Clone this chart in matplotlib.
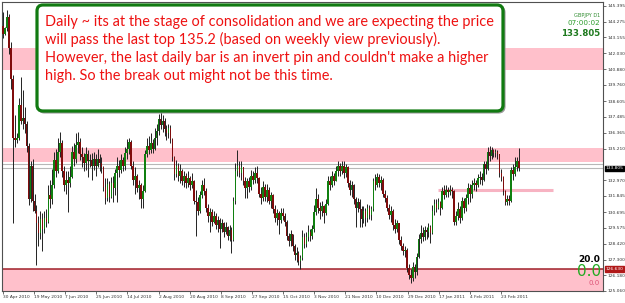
import numpy as np
import matplotlib.pyplot as plt
from matplotlib.patches import FancyBboxPatch
from matplotlib.transforms import IdentityTransform, blended_transform_factory

# GBPJPY D1, 30 Apr 2010 .. early Mar 2011
first_open = 144.0
closes = [
    143.4, 143.8, 144.6, 142.4, 140.2, 136.0, 135.8, 136.0, 138.3, 137.2,
    137.4, 137.0, 135.4, 131.6, 134.0, 131.5, 130.8, 129.9, 129.2, 130.2,
    129.5, 130.3, 130.0, 131.9, 131.6, 132.6, 134.4, 133.6, 135.0, 135.6,
    133.6, 132.6, 133.0, 132.8, 133.2, 135.0, 134.5, 135.5, 135.7, 134.8,
    134.6, 134.2, 134.8, 134.3, 134.4, 134.0, 134.5, 134.0, 134.5, 134.2,
    133.9, 132.5, 131.7, 132.7, 131.8, 132.8, 132.4, 133.5, 134.0, 133.7,
    134.4, 134.0, 134.9, 135.2, 135.7, 134.0, 133.0, 133.3, 132.4, 132.6,
    131.6, 132.2, 134.8, 135.4, 135.1, 135.6, 135.2, 136.0, 136.5, 137.3,
    136.9, 137.2, 136.6, 136.3, 136.7, 135.9, 134.6, 133.4, 134.0, 133.3,
    133.6, 132.9, 133.3, 132.8, 133.1, 132.6, 132.9, 131.5, 131.4, 130.8,
    131.9, 132.6, 132.2, 131.0, 130.4, 130.7, 130.0, 130.4, 129.8, 130.1,
    129.5, 129.9, 129.3, 129.6, 129.0, 129.4, 128.7, 131.5, 133.6, 134.0,
    133.5, 133.9, 132.9, 132.4, 132.9, 132.5, 133.3, 133.0, 133.5, 133.1,
    132.0, 131.7, 132.5, 131.8, 132.3, 131.5, 131.9, 130.9, 130.3, 130.6,
    130.1, 130.6, 130.4, 130.0, 129.0, 128.6, 129.1, 128.3, 127.6, 127.8,
    127.2, 127.4, 128.9, 128.4, 128.9, 129.3, 129.0, 129.5, 130.7, 131.6,
    131.0, 130.8, 131.1, 130.6, 131.3, 132.9, 132.6, 133.3, 132.9, 133.6,
    134.0, 133.6, 134.0, 133.5, 133.9, 132.8, 132.3, 132.6, 131.6, 131.0,
    131.4, 130.9, 130.2, 130.8, 130.3, 131.0, 130.5, 130.9, 132.9, 132.6,
    133.2, 132.8, 133.0, 132.0, 131.7, 131.0, 130.5, 130.8, 129.8, 129.5,
    129.9, 128.7, 128.3, 127.9, 128.0, 126.7, 126.2, 126.0, 126.8, 126.4,
    127.5, 128.8, 129.2, 128.9, 129.4, 129.3, 129.6, 129.2, 130.8, 131.3,
    131.0, 131.4, 131.0, 132.2, 131.9, 132.3, 132.1, 132.3, 132.2, 130.0,
    130.4, 130.9, 130.3, 131.5, 131.0, 131.7, 132.4, 132.0, 132.6, 132.8,
    132.6, 133.1, 133.2, 133.0, 134.1, 133.8, 135.0, 134.7, 135.1, 134.9,
    135.0, 134.8, 133.5, 133.2, 132.2, 131.4, 131.6, 131.5, 133.7, 133.4,
    133.9, 134.3, 133.805,
]
highs = [
    145.0, 143.9, 145.1, 144.8, 142.8, 140.5, 137.6, 136.3, 138.8, 140.3,
    139.4, 138.2, 137.2, 135.6, 134.3, 134.5, 132.0, 131.2, 130.4, 130.8,
    130.6, 130.8, 130.9, 132.6, 133.0, 133.8, 135.0, 135.2, 136.0, 136.4,
    135.8, 134.0, 133.6, 133.6, 134.0, 135.4, 135.6, 136.3, 136.4, 136.0,
    135.3, 134.9, 135.3, 135.1, 134.8, 134.9, 135.0, 134.8, 135.2, 134.8,
    134.6, 134.0, 133.1, 133.1, 132.9, 133.2, 133.3, 133.8, 134.6, 134.4,
    134.8, 134.6, 135.3, 135.9, 136.0, 135.8, 134.3, 133.9, 133.4, 133.0,
    132.8, 132.6, 135.1, 136.0, 136.1, 136.3, 135.9, 136.7, 137.0, 137.7,
    137.8, 137.6, 137.4, 136.9, 137.0, 136.9, 136.0, 134.7, 134.4, 134.2,
    134.1, 133.8, 133.6, 133.5, 133.6, 133.3, 133.5, 133.0, 132.3, 131.8,
    132.2, 133.0, 133.1, 132.4, 131.3, 131.0, 130.9, 130.8, 130.6, 130.4,
    130.3, 130.2, 130.0, 130.0, 129.7, 129.8, 129.6, 131.8, 134.2, 135.1,
    134.3, 134.3, 133.9, 133.2, 133.1, 133.2, 133.7, 133.6, 133.9, 134.0,
    133.2, 132.5, 132.9, 132.7, 132.7, 132.5, 132.1, 132.0, 131.2, 130.9,
    130.8, 131.0, 131.0, 130.6, 130.1, 129.2, 129.4, 129.1, 128.4, 128.2,
    127.9, 127.6, 129.4, 129.2, 129.3, 129.8, 129.5, 129.8, 131.2, 132.4,
    132.0, 131.4, 131.5, 131.2, 131.6, 133.3, 133.3, 133.6, 133.5, 134.0,
    134.3, 134.2, 134.3, 134.3, 134.1, 134.0, 133.0, 132.9, 132.7, 131.8,
    131.7, 131.6, 131.1, 131.1, 131.0, 131.3, 131.2, 131.1, 133.1, 133.4,
    133.5, 133.4, 133.3, 133.1, 132.3, 131.9, 131.3, 131.1, 130.9, 130.2,
    130.1, 129.9, 129.0, 128.5, 128.3, 128.1, 127.0, 126.6, 127.1, 127.0,
    127.8, 129.1, 129.8, 129.6, 129.7, 129.6, 129.9, 129.8, 131.2, 131.6,
    131.6, 131.7, 131.5, 132.5, 132.6, 132.6, 132.5, 132.6, 132.5, 132.3,
    130.8, 131.4, 131.1, 131.8, 131.7, 132.0, 132.8, 132.7, 133.0, 133.1,
    133.0, 133.4, 133.6, 133.5, 134.3, 134.3, 135.3, 135.4, 135.3, 135.2,
    135.2, 135.1, 134.8, 133.8, 133.3, 132.3, 131.9, 131.9, 133.9, 134.1,
    134.6, 134.6, 135.25,
]
lows = [
    143.1, 143.3, 143.6, 142.0, 139.5, 129.9, 135.3, 135.6, 135.8, 137.0,
    136.6, 136.3, 135.0, 131.2, 131.4, 130.8, 130.6, 126.9, 128.3, 128.8,
    127.9, 129.2, 129.6, 129.9, 131.0, 131.3, 132.4, 133.2, 133.5, 134.6,
    133.2, 132.2, 132.0, 130.7, 132.5, 133.1, 134.0, 134.2, 134.9, 134.4,
    133.9, 133.6, 133.7, 133.2, 133.9, 133.0, 133.7, 133.3, 133.9, 133.6,
    133.5, 132.2, 131.3, 131.5, 131.4, 131.7, 131.4, 131.9, 131.4, 133.2,
    133.5, 133.6, 133.7, 134.5, 134.8, 133.8, 132.6, 132.0, 132.1, 131.6,
    131.0, 131.0, 132.1, 134.6, 134.8, 134.9, 134.9, 135.1, 135.5, 136.2,
    136.6, 136.4, 136.1, 135.8, 136.0, 135.6, 134.3, 133.0, 133.2, 132.9,
    132.8, 132.6, 132.5, 132.4, 132.5, 132.3, 132.4, 131.3, 129.0, 130.5,
    130.6, 131.7, 131.9, 130.7, 130.0, 129.3, 129.7, 129.9, 129.5, 129.3,
    128.1, 129.3, 128.9, 129.1, 128.7, 128.6, 127.8, 128.6, 131.3, 133.3,
    133.2, 133.0, 132.6, 131.7, 131.7, 132.1, 132.3, 132.7, 132.8, 132.8,
    131.8, 131.3, 131.5, 131.5, 131.4, 131.3, 131.0, 130.6, 130.0, 129.8,
    129.1, 129.9, 130.1, 129.7, 128.7, 128.3, 128.3, 127.9, 127.3, 127.1,
    126.9, 126.65, 127.3, 128.1, 128.2, 128.6, 128.6, 128.8, 129.3, 130.5,
    130.6, 130.2, 130.4, 129.9, 130.5, 131.2, 132.3, 132.5, 132.6, 132.9,
    133.3, 133.3, 133.4, 133.1, 133.2, 132.5, 131.9, 131.8, 131.3, 129.6,
    130.7, 129.6, 129.6, 129.9, 129.7, 130.0, 130.2, 130.1, 130.8, 132.3,
    132.5, 132.5, 132.3, 131.8, 131.4, 130.8, 130.2, 130.0, 129.4, 129.2,
    129.3, 128.4, 128.0, 127.6, 127.5, 126.4, 125.9, 125.6, 125.8, 126.0,
    126.2, 127.4, 128.5, 128.6, 128.7, 128.8, 128.9, 128.5, 129.1, 130.5,
    130.7, 130.9, 130.5, 130.9, 131.6, 131.8, 131.8, 131.9, 131.7, 129.8,
    129.8, 130.1, 129.9, 130.1, 130.6, 130.8, 131.3, 131.4, 131.7, 132.3,
    132.2, 132.5, 132.7, 132.6, 132.9, 133.4, 133.7, 134.3, 134.5, 134.6,
    134.6, 134.5, 133.2, 132.9, 131.9, 131.2, 131.2, 131.2, 131.4, 133.0,
    133.3, 133.6, 133.6,
]
assert len(closes) == len(highs) == len(lows)

date_labels = ['30 Apr 2010', '19 May 2010', '7 Jun 2010', '25 Jun 2010', '14 Jul 2010',
               '2 Aug 2010', '20 Aug 2010', '8 Sep 2010', '27 Sep 2010', '15 Oct 2010',
               '3 Nov 2010', '21 Nov 2010', '10 Dec 2010', '29 Dec 2010', '17 Jan 2011',
               '4 Feb 2011', '23 Feb 2011']
price_labels = ['145.395', '144.275', '143.155', '142.030', '140.880', '139.760', '138.605',
                '137.485', '136.365', '135.210', '132.970', '131.845', '130.695', '129.575',
                '128.420', '127.300', '126.180', '125.060']

# support / resistance zones (price levels)
upper_zone = (140.83, 142.40)
mid_zone = (134.26, 135.26)
low_zone_top = 126.63
minor_level = 132.27
minor_span = (220.8, 279.2)
bid, ask = 133.805, 134.15

note = ["Daily ~ its at the stage of consolidation and we are expecting the price",
        "will pass the last top 135.2 (based on weekly view previously).",
        "However, the last daily bar is an invert pin and couldn't make a higher",
        "high. So the break out might not be this time."]

W, H = 625, 303
fig = plt.figure(figsize=(W / 100, H / 100), dpi=100)
fig.patch.set_facecolor('white')
ax = fig.add_axes([2 / W, (H - 291) / H, 601 / W, 289 / H])

n = len(closes)
x = np.arange(n)
c = np.array(closes)
o = np.array([first_open] + closes[:-1])
h = np.maximum(np.array(highs), np.maximum(o, c))
l = np.minimum(np.array(lows), np.minimum(o, c))

# zones
pink = '#FFC0CB'
ax.axhspan(*upper_zone, color=pink, lw=0, zorder=0)
ax.axhspan(*mid_zone, color=pink, lw=0, zorder=0)
ax.axhspan(120, low_zone_top, color=pink, lw=0, zorder=0)
ax.axhline(low_zone_top, color='#A0202A', lw=1.1, zorder=1)
ax.hlines(minor_level, *minor_span, color='#F7B3C2', lw=2.2, zorder=1)
ax.axhline(ask, color='#B8B8B8', lw=0.8, zorder=1)
ax.axhline(bid, color='#B8B8B8', lw=0.8, zorder=1)

# candles
ax.vlines(x, l, h, color='#222222', lw=0.7, zorder=2)
up = c >= o
body = np.maximum(np.abs(c - o), 0.06)
ax.bar(x[up], body[up], bottom=np.minimum(o, c)[up], width=0.8,
       color='#108010', lw=0, zorder=3)
ax.bar(x[~up], body[~up], bottom=np.minimum(o, c)[~up], width=0.8,
       color='#800c0c', lw=0, zorder=3)

ax.set_xlim(-0.51, 304.6)
ax.set_ylim(125.06, 145.68)

for s in ax.spines.values():
    s.set_color('#505050')
    s.set_linewidth(0.8)

# price axis
ax.yaxis.tick_right()
ax.set_yticks([float(p) for p in price_labels])
ax.set_yticklabels(price_labels)
ax.tick_params(axis='y', length=2, width=0.5, pad=1, labelsize=3.2, colors='#333333')

# time axis
ax.set_xticks(np.arange(len(date_labels)) * 15.8)
ax.set_xticklabels(date_labels)
ax.tick_params(axis='x', length=2.2, width=0.5, pad=1, labelsize=3.2, colors='#333333')
for t in ax.get_xticklabels():
    t.set_ha('left')

# price boxes on the axis
tr = blended_transform_factory(ax.transAxes, ax.transData)
ax.text(1.004, bid, f'{bid:.3f}', transform=tr, ha='left', va='center', fontsize=3.2,
        color='white', bbox=dict(boxstyle='square,pad=0.2', fc='black', ec='black'), zorder=5)
ax.text(1.004, low_zone_top, f'{low_zone_top:.3f}', transform=tr, ha='left', va='center',
        fontsize=3.2, color='white',
        bbox=dict(boxstyle='square,pad=0.2', fc='#B01818', ec='#B01818'), zorder=5)

# note box
shadow = FancyBboxPatch((38.5, H - 112.5), 466, 106, boxstyle='round,pad=0,rounding_size=6',
                        fc='none', ec='#999999', lw=1.5, transform=IdentityTransform(), zorder=4)
box = FancyBboxPatch((37, H - 111), 466, 106, boxstyle='round,pad=0,rounding_size=6',
                     fc='white', ec='#117A11', lw=2.3, transform=IdentityTransform(), zorder=5)
fig.add_artist(shadow)
fig.add_artist(box)
for k, line in enumerate(note):
    fig.text(45 / W, 1 - (26 + 18 * k) / H, line, fontsize=10.45, family='Lato',
             color='#EE1111', va='baseline', ha='left', zorder=6)

# chart info, top right
fig.text(600 / W, 1 - 15 / H, 'GBPJPY D1', fontsize=3.6, color='#2E8B2E', ha='right', va='center')
fig.text(600 / W, 1 - 23 / H, '07:00:02', fontsize=5.2, color='#2E9E2E', ha='right', va='center')
fig.text(600 / W, 1 - 34 / H, f'{bid:.3f}', fontsize=6.2, color='#1E7A1E', weight='bold',
         ha='right', va='center')

# indicator values, bottom right
fig.text(600 / W, 1 - 260 / H, '20.0', fontsize=6.5, weight='bold', color='black',
         ha='right', va='center')
fig.text(601 / W, 1 - 272 / H, '0.0', fontsize=11, color='#22AA22', ha='right', va='center')
fig.text(600 / W, 1 - 283 / H, '0.0', fontsize=5, color='#DD5577', ha='right', va='center')

fig.savefig('out.png', dpi=100, facecolor='white')
